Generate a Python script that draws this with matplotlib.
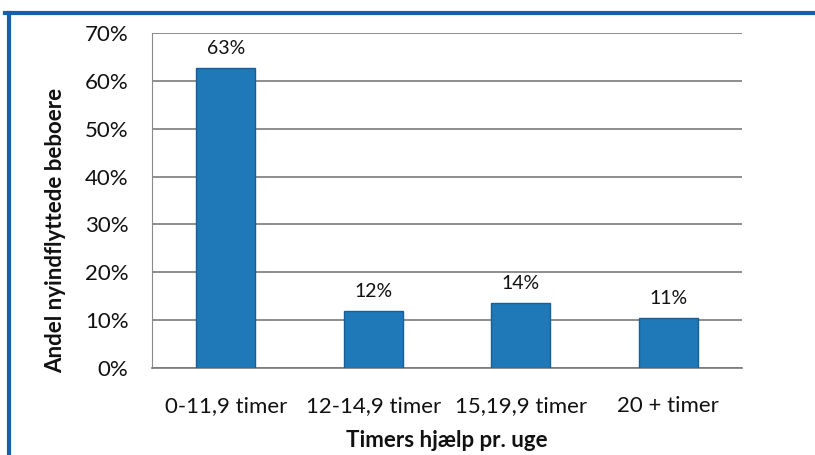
import matplotlib
matplotlib.use("Agg")
import matplotlib.pyplot as plt
from matplotlib.lines import Line2D
from matplotlib.ticker import PercentFormatter

categories = ["0-11,9 timer", "12-14,9 timer", "15,19,9 timer", "20 + timer"]
values = [0.627, 0.119, 0.136, 0.104]
labels = ["63%", "12%", "14%", "11%"]
yticks = [0, 0.1, 0.2, 0.3, 0.4, 0.5, 0.6, 0.7]

plt.rcParams['font.family'] = ['Lato', 'DejaVu Sans']

fig = plt.figure(figsize=(8.15, 4.55), dpi=100)
ax = fig.add_axes([152/815, 1-368/455, (742-152)/815, (368-33)/455])

x = range(len(categories))
ax.bar(x, values, width=0.4, color="#1f78b8", edgecolor="#195f96", linewidth=1, zorder=3)
for i, (v, lab) in enumerate(zip(values, labels)):
    ax.annotate(lab, (i, v), xytext=(0, 8), textcoords="offset points",
                ha="center", va="bottom", fontsize=14, color="#111111")

ax.set_xlim(-0.5, len(categories) - 0.5)
ax.set_ylim(0, 0.7)
ax.set_yticks(yticks)
ax.yaxis.set_major_formatter(PercentFormatter(1.0, decimals=0))
ax.set_xticks(list(x))
ax.set_xticklabels(categories)
ax.tick_params(axis='both', length=0, labelsize=16, colors="#111111")
ax.tick_params(axis='x', pad=20)
ax.tick_params(axis='y', pad=17)
ax.grid(axis='y', color="#7a7a7a", linewidth=1.2, zorder=0)
for s in ["top", "right"]:
    ax.spines[s].set_visible(False)
ax.spines["left"].set_color("#8a8a8a")
ax.spines["bottom"].set_color("#7a7a7a")
ax.spines["bottom"].set_linewidth(1.2)

ax.set_xlabel("Timers hjælp pr. uge", fontsize=16, fontweight="bold", color="#111111")
ax.set_ylabel("Andel nyindflyttede beboere", fontsize=16, fontweight="bold", color="#111111")
ax.xaxis.set_label_coords(0.5, -0.215)
ax.yaxis.set_label_coords(-0.164, 0.41)
ax.xaxis.label.set_va("center")
ax.yaxis.label.set_va("center")

# blue frame
fig.add_artist(Line2D([5/815, 1], [1-13/455, 1-13/455], transform=fig.transFigure, color="#1a5ea8", linewidth=3))
fig.add_artist(Line2D([9/815, 9/815], [0, 1-13/455], transform=fig.transFigure, color="#1a5ea8", linewidth=3))

fig.savefig("out.png", dpi=100)
